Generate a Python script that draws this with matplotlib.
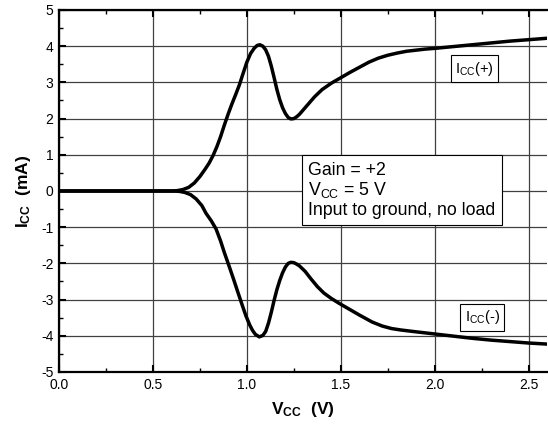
import matplotlib
matplotlib.use("Agg")
import matplotlib.pyplot as plt
from matplotlib.ticker import MultipleLocator

plt.rcParams['font.family'] = ['Liberation Sans', 'DejaVu Sans']
plt.rcParams['mathtext.fontset'] = 'custom'
plt.rcParams['mathtext.rm'] = 'Liberation Sans'
plt.rcParams['mathtext.bf'] = 'Liberation Sans:bold'

# I_CC(+) readings (V, mA)
vcc_pos = [0.0, 0.3, 0.60, 0.63, 0.66, 0.69, 0.72, 0.75, 0.78, 0.80, 0.82, 0.84, 0.86,
           0.88, 0.90, 0.92, 0.94, 0.96, 0.98, 1.00, 1.02, 1.04, 1.055, 1.069, 1.085,
           1.10, 1.115, 1.13, 1.145, 1.16, 1.175, 1.19, 1.205, 1.22, 1.234, 1.25, 1.265,
           1.28, 1.30, 1.33, 1.36, 1.40, 1.45, 1.50, 1.55, 1.60, 1.65, 1.70, 1.75, 1.80,
           1.85, 1.90, 1.95, 2.00, 2.10, 2.20, 2.30, 2.40, 2.50, 2.60]
icc_pos = [0.0, 0.0, 0.0, 0.01, 0.04, 0.10, 0.22, 0.40, 0.62, 0.78, 0.98, 1.22, 1.50,
           1.82, 2.12, 2.40, 2.66, 2.93, 3.25, 3.56, 3.80, 3.95, 4.02, 4.04, 4.00,
           3.90, 3.72, 3.45, 3.13, 2.80, 2.52, 2.30, 2.14, 2.03, 1.99, 2.00, 2.05,
           2.12, 2.24, 2.42, 2.60, 2.80, 2.98, 3.13, 3.28, 3.42, 3.56, 3.67, 3.75, 3.81,
           3.86, 3.89, 3.92, 3.94, 3.99, 4.04, 4.09, 4.14, 4.18, 4.22]

# I_CC(-) readings (V, mA)
vcc_neg = [0.0, 0.3, 0.60, 0.64, 0.67, 0.70, 0.73, 0.76, 0.783, 0.81, 0.836, 0.86, 0.88,
           0.907, 0.93, 0.951, 0.975, 0.995, 1.015, 1.03, 1.045, 1.066, 1.085, 1.10,
           1.115, 1.13, 1.145, 1.16, 1.175, 1.19, 1.205, 1.22, 1.234, 1.25, 1.265, 1.28,
           1.31, 1.34, 1.375, 1.41, 1.45, 1.49, 1.54, 1.60, 1.667, 1.72, 1.77, 1.82, 1.90,
           2.00, 2.10, 2.20, 2.30, 2.40, 2.50, 2.60]
icc_neg = [0.0, 0.0, 0.0, -0.01, -0.04, -0.10, -0.22, -0.40, -0.62, -0.82, -1.05, -1.38,
           -1.70, -2.10, -2.45, -2.78, -3.15, -3.45, -3.70, -3.85, -3.96, -4.03, -3.99,
           -3.88, -3.65, -3.35, -3.02, -2.72, -2.47, -2.26, -2.10, -2.00, -1.97, -1.98,
           -2.02, -2.07, -2.22, -2.42, -2.64, -2.82, -2.97, -3.10, -3.25, -3.43, -3.62,
           -3.73, -3.80, -3.84, -3.89, -3.95, -4.01, -4.07, -4.12, -4.16, -4.20, -4.23]

x_ticks = [0.0, 0.5, 1.0, 1.5, 2.0, 2.5]
y_ticks = [-5, -4, -3, -2, -1, 0, 1, 2, 3, 4, 5]

fig = plt.figure(figsize=(5.48, 4.29), dpi=100)
ax = fig.add_axes([0.1077, 0.1329, 0.8913, 0.8438])

ax.plot(vcc_pos, icc_pos, color='black', lw=2.5, solid_joinstyle='round',
        solid_capstyle='round', zorder=3)
ax.plot(vcc_neg, icc_neg, color='black', lw=2.5, solid_joinstyle='round',
        solid_capstyle='round', zorder=3)

ax.set_xlim(0, 2.6)
ax.set_ylim(-5, 5)
ax.set_xticks(x_ticks)
ax.set_xticklabels([f"{t:.1f}" for t in x_ticks])
ax.set_yticks(y_ticks)
ax.set_yticklabels([str(t) for t in y_ticks])
ax.xaxis.set_minor_locator(MultipleLocator(0.25))
ax.yaxis.set_minor_locator(MultipleLocator(0.5))
ax.tick_params(which='major', direction='in', length=5, width=1.5, labelsize=10,
               top=True, right=False, pad=4)
ax.tick_params(which='minor', direction='in', length=3, width=1.0, top=True, right=False)
ax.grid(True, which='major', color='0.25', lw=0.9)
ax.set_axisbelow(True)

for s in ['left', 'bottom', 'top']:
    ax.spines[s].set_linewidth(1.6)
ax.spines['right'].set_visible(False)

ax.set_xlabel(r'$\mathbf{V_{CC}}$  (V)', fontsize=12.5, fontweight='bold', labelpad=6)
ax.set_ylabel(r'$\mathbf{I_{CC}}$  (mA)', fontsize=12.5, fontweight='bold', labelpad=6)

ax.text(2.211, 3.38, r'I$_{\mathregular{CC}}$(+)', fontsize=10.5, ha='center', va='center',
        bbox=dict(boxstyle='square,pad=0.3', fc='white', ec='black', lw=0.8), zorder=4)
ax.text(2.253, -3.49, r'I$_{\mathregular{CC}}$(-)', fontsize=10.5, ha='center', va='center',
        bbox=dict(boxstyle='square,pad=0.3', fc='white', ec='black', lw=0.8), zorder=4)

ax.text(1.326, 0.02, 'Gain = +2\n' + r'V$_{\mathregular{CC}}$ = 5 V' + '\nInput to ground, no load',
        fontsize=12.8, ha='left', va='center', linespacing=1.12,
        bbox=dict(boxstyle='square,pad=0.35', fc='white', ec='black', lw=0.8), zorder=4)

fig.savefig('out.png', dpi=100)
